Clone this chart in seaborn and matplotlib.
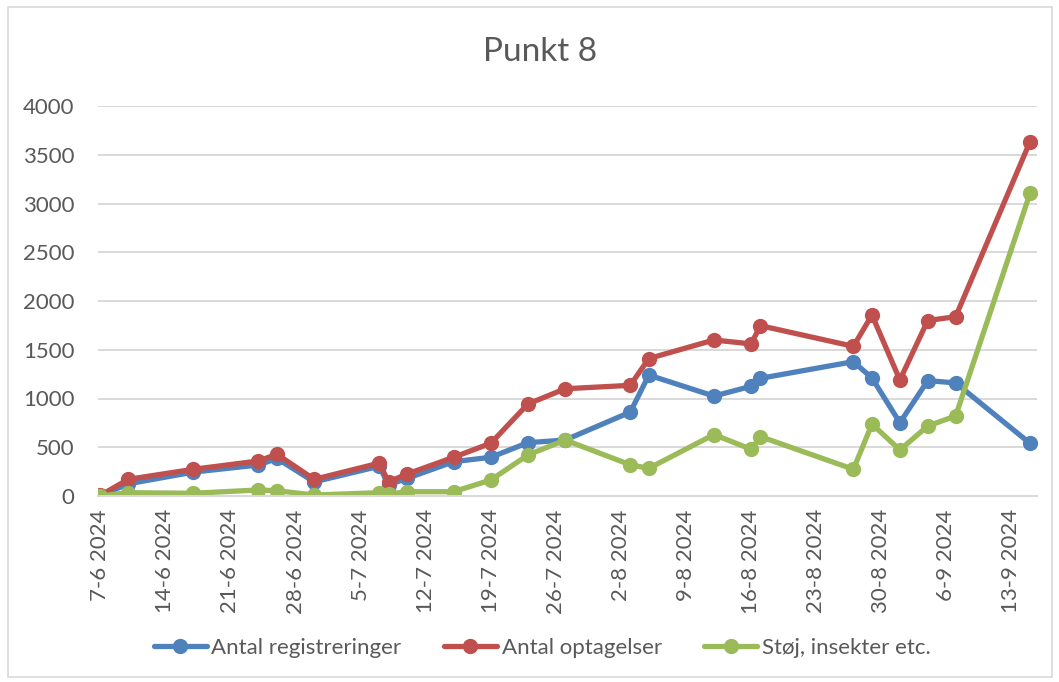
import matplotlib
matplotlib.use("Agg")
import matplotlib.pyplot as plt
import matplotlib.dates as mdates
from matplotlib.lines import Line2D
from matplotlib.patches import Rectangle
import seaborn as sns
import pandas as pd

# Measurement dates (2024) and the three counted series
dates = ["2024-06-07", "2024-06-10", "2024-06-17", "2024-06-24", "2024-06-26",
         "2024-06-30", "2024-07-07", "2024-07-08", "2024-07-10", "2024-07-15",
         "2024-07-19", "2024-07-23", "2024-07-27", "2024-08-03", "2024-08-05",
         "2024-08-12", "2024-08-16", "2024-08-17", "2024-08-27", "2024-08-29",
         "2024-09-01", "2024-09-04", "2024-09-07", "2024-09-15"]
registreringer = [3, 125, 245, 318, 385, 145, 305, 115, 181, 352,
                  397, 547, 574, 860, 1240, 1025, 1125, 1207, 1378, 1210,
                  752, 1183, 1160, 540]
optagelser = [6, 171, 274, 359, 428, 171, 337, 145, 226, 397,
              541, 944, 1100, 1135, 1410, 1600, 1560, 1747, 1535, 1856,
              1190, 1800, 1839, 3634]
stoej = [0, 34, 28, 62, 54, 10, 34, 20, 44, 44,
         164, 421, 574, 320, 284, 630, 479, 609, 274, 738,
         472, 718, 821, 3105]

series_names = ["Antal registreringer", "Antal optagelser", "Støj, insekter etc."]
series_colors = ["#4F81BD", "#C0504D", "#9BBB59"]
title = "Punkt 8"

sns.set_theme(style="white")
plt.rcParams["font.family"] = ["Lato", "DejaVu Sans"]
text_color = "#595959"
grid_color = "#D9D9D9"
lw, ms = 3.8, 11

W, H = 1059, 682
fig = plt.figure(figsize=(W / 100, H / 100), dpi=100)
ax = fig.add_axes([98 / W, 1 - 496 / H, (1037 - 98) / W, (496 - 106) / H])

x = pd.to_datetime(dates)
for vals, name, col in zip([registreringer, optagelser, stoej], series_names, series_colors):
    sns.lineplot(x=x, y=vals, ax=ax, color=col, linewidth=lw, marker="o",
                 markersize=ms, markeredgewidth=0, label=name, legend=False)

# Axes ranges and ticks
start = pd.Timestamp("2024-06-07")
ax.set_xlim(start - pd.Timedelta(hours=6), start + pd.Timedelta(days=100.75))
ax.set_ylim(0, 4000)
ax.set_yticks(range(0, 4001, 500))
ax.set_xticks(pd.date_range("2024-06-07", "2024-09-13", freq="7D"))
ax.xaxis.set_minor_locator(mdates.DayLocator())
ax.xaxis.set_major_formatter(mdates.DateFormatter("%-d-%-m %Y"))

ax.grid(axis="y", color=grid_color, linewidth=1.4)
ax.grid(axis="x", visible=False)
for side in ["left", "right", "top"]:
    ax.spines[side].set_visible(False)
ax.spines["bottom"].set_color(grid_color)
ax.spines["bottom"].set_linewidth(1.4)
ax.set_axisbelow(True)

ax.tick_params(axis="y", length=0, pad=17, labelsize=16, labelcolor=text_color)
ax.tick_params(axis="x", which="major", direction="inout", length=9, width=1.2,
               color=grid_color, pad=5, labelsize=16, labelcolor=text_color,
               labelrotation=90)
ax.tick_params(axis="x", which="minor", direction="out", length=4, width=1,
               color=grid_color)
ax.set_xlabel("")
ax.set_ylabel("")

fig.text(540 / W, 1 - 52 / H, title, ha="center", va="center",
         fontsize=24, color=text_color)

handles = [Line2D([0], [0], color=c, linewidth=lw, marker="o", markersize=ms,
                  markeredgewidth=0) for c in series_colors]
fig.legend(handles, series_names, loc="center", bbox_to_anchor=(542 / W, 1 - 648 / H),
           ncol=3, frameon=False, fontsize=16, labelcolor=text_color,
           handlelength=2.4, handletextpad=0.2, columnspacing=1.9, numpoints=1)

fig.patches.append(Rectangle((8 / W, 1 - 677 / H), (1052 - 8) / W, (677 - 7) / H,
                             transform=fig.transFigure, fill=False,
                             edgecolor=grid_color, linewidth=1.2))

fig.savefig("out.png", dpi=100)
